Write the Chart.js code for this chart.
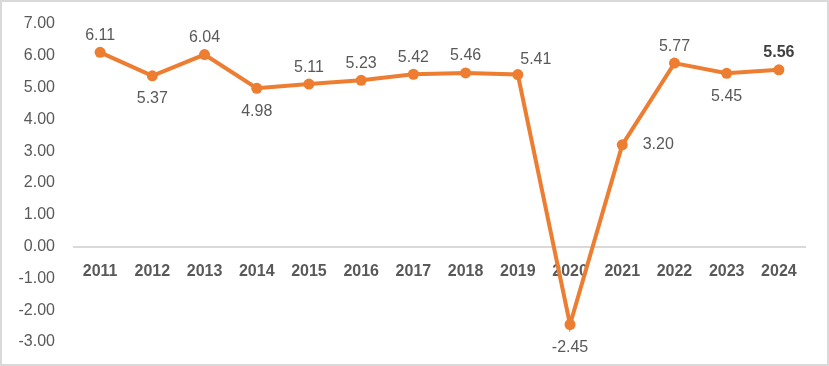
<!DOCTYPE html>
<html lang="en">
<head>
    <meta charset="UTF-8">
    <title>Growth 2011-2024</title>
    <style>
        body {
            margin: 0;
            padding: 0;
            background: #ffffff;
        }
        .wrap {
            position: relative;
            width: 829px;
            height: 366px;
        }
        .frame {
            position: absolute;
            left: 0;
            top: 0;
            width: 829px;
            height: 366px;
            box-sizing: border-box;
            border: 2px solid #d9d9d9;
            pointer-events: none;
        }
    </style>
</head>
<body>
    <div class="wrap">
        <canvas id="chart" width="829" height="366"></canvas>
        <div class="frame"></div>
    </div>
    <script src="https://cdn.jsdelivr.net/npm/chart.js"></script>
    <script>
        const years = ['2011', '2012', '2013', '2014', '2015', '2016', '2017',
                       '2018', '2019', '2020', '2021', '2022', '2023', '2024'];
        const growth = [6.11, 5.37, 6.04, 4.98, 5.11, 5.23, 5.42,
                        5.46, 5.41, -2.45, 3.20, 5.77, 5.45, 5.56];

        // where each value label sits relative to its point
        const labelSide = ['top', 'bottom', 'top', 'bottom', 'top', 'top', 'top',
                           'top', 'topright', 'bottom', 'right', 'top', 'bottom', 'top'];

        const orange = '#ED7D31';
        const textColor = '#595959';
        const fontFamily = 'Arial, "Liberation Sans", sans-serif';

        const valueLabels = {
            id: 'valueLabels',
            afterDatasetsDraw(chart) {
                const ctx = chart.ctx;
                const meta = chart.getDatasetMeta(0);
                ctx.save();
                ctx.textAlign = 'center';
                ctx.textBaseline = 'middle';
                meta.data.forEach((pt, i) => {
                    const last = i === growth.length - 1;
                    ctx.font = (last ? 'bold ' : '') + '16px ' + fontFamily;
                    ctx.fillStyle = last ? '#404040' : textColor;
                    let x = pt.x, y = pt.y;
                    const side = labelSide[i];
                    if (side === 'top') y -= 17;
                    else if (side === 'bottom') y += 23;
                    else if (side === 'topright') { x += 18; y -= 15; }
                    else if (side === 'right') { x += 36; }
                    ctx.fillText(growth[i].toFixed(2), x, y);
                });
                ctx.restore();
            }
        };

        new Chart(document.getElementById('chart'), {
            type: 'line',
            data: {
                labels: years,
                datasets: [{
                    data: growth,
                    borderColor: orange,
                    backgroundColor: orange,
                    borderWidth: 4,
                    pointRadius: 5.5,
                    pointHoverRadius: 5.5,
                    pointBackgroundColor: orange,
                    pointBorderWidth: 0,
                    tension: 0
                }]
            },
            options: {
                responsive: false,
                animation: false,
                layout: {
                    padding: { top: 24, bottom: 24, left: 0, right: 24 }
                },
                plugins: {
                    legend: { display: false },
                    tooltip: { enabled: false }
                },
                scales: {
                    x: {
                        position: { y: 0 },
                        offset: true,
                        grid: { display: false, offset: true },
                        border: { display: true, color: '#d9d9d9', width: 2 },
                        ticks: {
                            color: textColor,
                            padding: 7,
                            maxRotation: 0,
                            font: { family: fontFamily, size: 16, weight: 'bold' }
                        }
                    },
                    y: {
                        min: -3,
                        max: 7,
                        grid: { display: false },
                        border: { display: false },
                        afterFit(scale) { scale.width = 74; },
                        ticks: {
                            stepSize: 1,
                            color: textColor,
                            padding: 11,
                            font: { family: fontFamily, size: 16 },
                            callback: v => v.toFixed(2)
                        }
                    }
                }
            },
            plugins: [valueLabels]
        });
    </script>
</body>
</html>
